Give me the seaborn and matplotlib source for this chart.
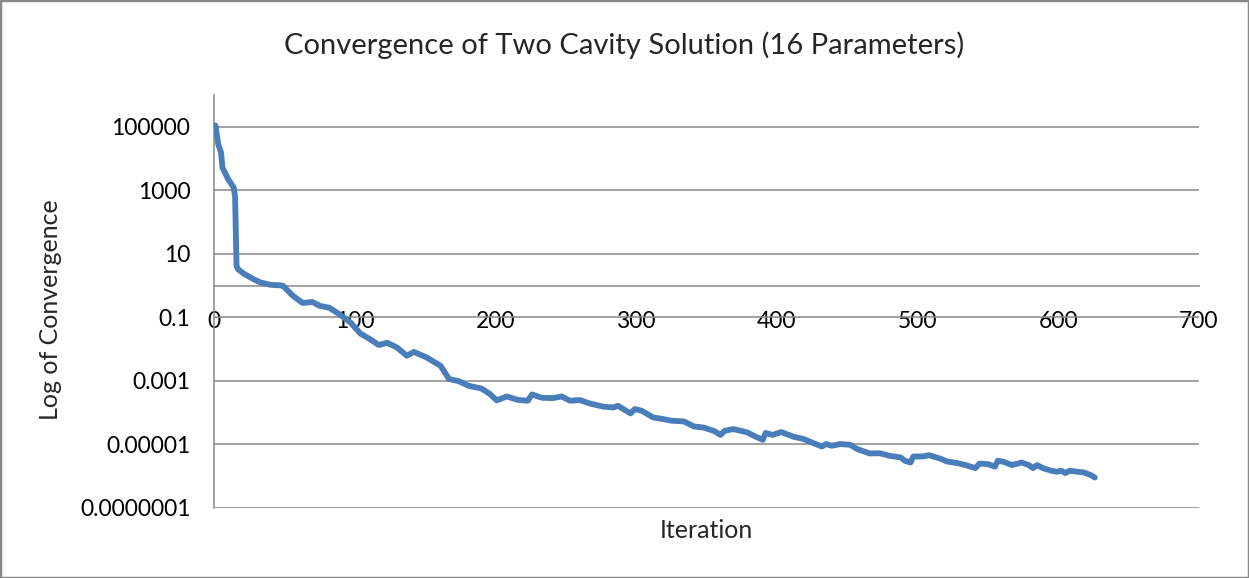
import matplotlib
matplotlib.use("Agg")
import matplotlib.pyplot as plt
from matplotlib.patches import Rectangle
from matplotlib.ticker import FixedLocator, NullLocator
import pandas as pd
import seaborn as sns

# Solver convergence history: iteration number and residual
iteration = [1, 3, 5, 6, 10, 14, 15, 16, 17, 21, 28, 33, 40, 47, 49, 56, 63, 70,
             75, 82, 89, 97, 104, 111, 117, 123, 130, 137, 142, 151, 161, 167,
             174, 181, 190, 196, 201, 208, 216, 223, 226, 233, 241, 247, 253,
             260, 267, 277, 284, 287, 296, 299, 304, 312, 319, 325, 334, 341,
             348, 355, 360, 363, 369, 379, 385, 390, 392, 397, 403, 412, 419,
             426, 432, 435, 439, 445, 452, 457, 466, 473, 480, 488, 491, 495,
             497, 504, 508, 516, 521, 528, 534, 541, 544, 550, 555, 557, 561,
             567, 574, 579, 582, 585, 589, 595, 599, 602, 605, 608, 614, 618,
             623, 626]
convergence = [1.1e5, 2.85e4, 1.55e4, 5.2e3, 2.26e3, 1.23e3, 600, 4.2, 3.3,
               2.4, 1.6, 1.26, 1.06, 1.02, 0.99, 0.48, 0.284, 0.305, 0.232,
               0.20, 0.127, 0.069, 0.031, 0.0205, 0.0135, 0.0159, 0.0113,
               0.0062, 0.0082, 0.0055, 0.0030, 0.00115, 0.00098, 0.0007,
               0.00058, 0.00039, 0.000244, 0.000324, 0.000252, 0.000238,
               0.000375, 0.000295, 0.000288, 0.000324, 0.000238, 0.00025,
               0.000195, 0.000154, 0.000146, 0.000165, 9.5e-5, 1.3e-4, 1.15e-4,
               7.1e-5, 6.3e-5, 5.6e-5, 5.3e-5, 3.7e-5, 3.4e-5, 2.7e-5, 2.0e-5,
               2.7e-5, 3.05e-5, 2.4e-5, 1.75e-5, 1.4e-5, 2.3e-5, 2.0e-5,
               2.45e-5, 1.75e-5, 1.48e-5, 1.1e-5, 8.6e-6, 1.03e-5, 9.1e-6,
               1.03e-5, 9.8e-6, 7.2e-6, 5.2e-6, 5.3e-6, 4.4e-6, 3.9e-6, 3.07e-6,
               2.7e-6, 4.2e-6, 4.2e-6, 4.6e-6, 3.6e-6, 2.9e-6, 2.6e-6, 2.25e-6,
               1.8e-6, 2.5e-6, 2.4e-6, 2.0e-6, 3.07e-6, 2.85e-6, 2.25e-6,
               2.7e-6, 2.25e-6, 1.8e-6, 2.25e-6, 1.8e-6, 1.49e-6, 1.38e-6,
               1.49e-6, 1.26e-6, 1.49e-6, 1.38e-6, 1.32e-6, 1.09e-6, 9.1e-7]

x_ticks = [0, 100, 200, 300, 400, 500, 600, 700]
y_ticks = [1e-7, 1e-5, 1e-3, 0.1, 10, 1000, 1e5]
y_tick_labels = ["0.0000001", "0.00001", "0.001", "0.1", "10", "1000", "100000"]

df = pd.DataFrame({"Iteration": iteration, "Convergence": convergence})

sns.set_style("white")
plt.rcParams["font.family"] = ["Lato", "DejaVu Sans"]

W, H = 1249, 578
grid_color = "#878787"
line_color = "#4a7ebb"

fig = plt.figure(figsize=(W / 100, H / 100), dpi=100)
ax = fig.add_axes([214 / W, 70 / H, 985 / W, 413 / H])

sns.lineplot(data=df, x="Iteration", y="Convergence", ax=ax, color=line_color,
             linewidth=4.2, estimator=None, sort=False)
for ln in ax.lines:
    ln.set_solid_capstyle("round")
    ln.set_solid_joinstyle("round")
    ln.set_zorder(3)

ax.set_yscale("log")
ax.set_xlim(0, 700)
ax.set_ylim(1e-7, 1e6)

ax.yaxis.set_major_locator(FixedLocator(y_ticks))
ax.yaxis.set_minor_locator(NullLocator())
ax.set_yticklabels(y_tick_labels)
ax.set_xticks(x_ticks)
ax.set_xticklabels([str(v) for v in x_ticks])

ax.yaxis.grid(True, color=grid_color, linewidth=1.1)
ax.xaxis.grid(False)
ax.set_axisbelow(True)

for side in ("top", "right"):
    ax.spines[side].set_visible(False)
ax.spines["left"].set_color(grid_color)
ax.spines["left"].set_linewidth(1.1)
ax.spines["bottom"].set_position(("data", 1))
ax.spines["bottom"].set_color(grid_color)
ax.spines["bottom"].set_linewidth(1.1)

ax.tick_params(axis="y", length=0, pad=17, labelsize=16.5, colors="black")
ax.tick_params(axis="x", length=0, pad=18, labelsize=16.5, colors="black")

ax.set_xlabel("")
ax.set_ylabel("")

fig.text(624.5 / W, 1 - 45 / H, "Convergence of Two Cavity Solution (16 Parameters)",
         ha="center", va="center", fontsize=21)
fig.text(706 / W, 1 - 530 / H, "Iteration", ha="center", va="center", fontsize=18)
fig.text(51 / W, 1 - 310 / H, "Log of Convergence", ha="center", va="center",
         rotation=90, fontsize=18)

fig.add_artist(Rectangle((0, 0), 1, 1, transform=fig.transFigure, fill=False,
                         edgecolor="#888888", linewidth=2.5))

fig.savefig("out.png", dpi=100)
